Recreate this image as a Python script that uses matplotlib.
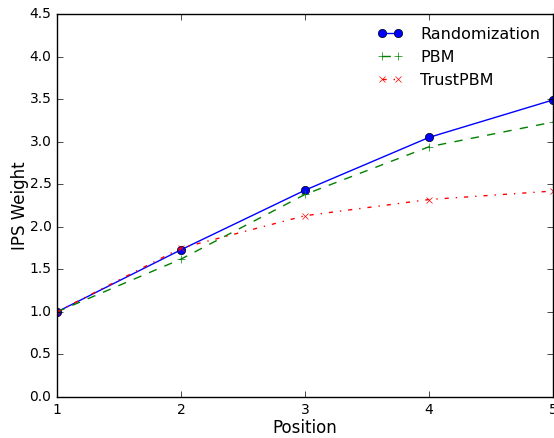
import numpy as np
import matplotlib
matplotlib.use("Agg")
import matplotlib.pyplot as plt

plt.style.use('classic')

positions = [1, 2, 3, 4, 5]
randomization = [1.0, 1.73, 2.43, 3.05, 3.49]
pbm = [1.0, 1.62, 2.38, 2.94, 3.23]
trust_pbm = [1.0, 1.75, 2.13, 2.32, 2.42]

fig = plt.figure(figsize=(5.54, 4.38), dpi=100, facecolor='white')
ax = fig.add_axes([57/554, 41/438, 496/554, 383/438])

ax.plot(positions, randomization, 'b-o', label='Randomization')
ax.plot(positions, pbm, 'g--+', label='PBM')
ax.plot(positions, trust_pbm, 'r-.x', markersize=5, label='TrustPBM')

ax.set_xlim(1, 5)
ax.set_ylim(0, 4.5)
ax.set_xticks([1, 2, 3, 4, 5])
ax.set_yticks(np.arange(0, 4.51, 0.5))
ax.tick_params(labelsize=10)
ax.set_xlabel('Position', fontsize=12, labelpad=2)
ax.set_ylabel('IPS Weight', fontsize=12, labelpad=0)
ax.legend(loc='upper right', frameon=False, numpoints=2, fontsize=11.5,
          handlelength=1.6, handletextpad=1.1, labelspacing=0.5,
          borderaxespad=0.4)

fig.savefig('out.png', dpi=100, facecolor='white')
